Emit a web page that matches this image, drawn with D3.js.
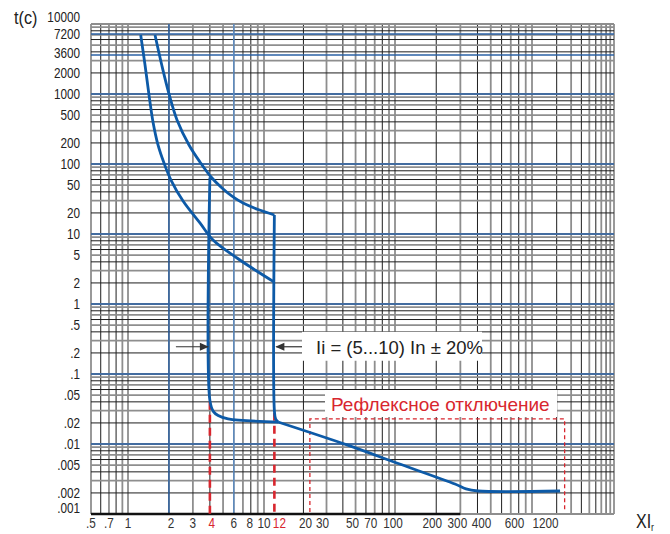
<!DOCTYPE html>
<html><head><meta charset="utf-8">
<script src="https://cdn.jsdelivr.net/npm/d3@7"></script>
<style>
html,body{margin:0;padding:0;background:#fff;}
svg{display:block;}
</style></head>
<body><svg id="c" width="670" height="534"></svg>
<script>
// ---- data ----
const xTickLabels = [".5",".7","1","2","3","4","6","8","10","12","20","30","50","70","100","200","300","400","600","1200"];
const xTickValues = [0.5,0.7,1,2,3,4,6,8,10,12,20,30,50,70,100,200,300,400,600,1200];
const xRedTicks = [4,12];
const yTickLabels = ["10000","7200","3600","2000","1000","500","200","100","50","20","10","5","2","1",".5",".2",".1",".05",".02",".01",".005",".002",".001"];
const yTickValues = [10000,7200,3600,2000,1000,500,200,100,50,20,10,5,2,1,0.5,0.2,0.1,0.05,0.02,0.01,0.005,0.002,0.001];
const yBlueLines = [7200,3600,1000,100,10,1,0.1,0.01];
const xBlueLines = [2,6];
// lower boundary of thermal band (x = multiple of Ir, t = seconds)
const curveLow = [[1.24,6970],[1.334,2596],[1.427,968],[1.527,398],[1.662,187],[1.84,103],[2.07,59],[2.54,29.6],[3.38,14.4],[4.22,8.2],[6.33,4.54],[8.6,3.06],[12,2.05]];
// upper boundary of thermal band
const curveHigh = [[1.58,6970],[1.778,2512],[2.003,1000],[2.293,425],[2.809,187],[3.38,107],[4.08,65.2],[4.91,45.4],[5.92,33.8],[7.01,27.7],[9.04,22.4],[12,18.7]];
// instantaneous trip at 12 and reflex tail
const trip12 = [[12,18.7],[12,0.03],[12.25,0.023],[12.8,0.0206]];
const tail = [[12.8,0.0206],[43,0.0097],[103,0.00535],[274,0.00268],[330,0.00228],[403,0.00213],[2200,0.00213]];
// instantaneous trip at 4
const trip4 = [[4,64],[4,0.042],[4.25,0.029],[4.6,0.0255],[5.44,0.0229],[12.8,0.0206]];
const reflexBox = {x0:22.4, x1:2500, t:0.0228};
const arrowT = 0.245;
const arrowFrom = 2.25;
const arrowTo = 19.5;
const annText = "Ii = (5...10) In ± 20%";
const reflexText = "Рефлексное отключение";

// ---- scales ----
const svg = d3.select("#c");
const x = d3.scaleLog().domain([0.5,1,10,100,1000,10000]).range([91,128,264,395,532,614]);
const y = d3.scaleLog().domain([0.001,10000]).range([514,24]);

const blue = "#0d5aa7";
const red = "#d8262e";
const FONT = "Liberation Sans, Arial, sans-serif";

// ---- grid ----
const grid = svg.append("g");
function minors(lo, hi){
  const out=[];
  for(let e=-4;e<=5;e++){
    for(let d=1;d<=9;d++){
      const v=d*Math.pow(10,e);
      if(v>=lo*0.9999 && v<=hi*1.0001) out.push({v,d});
    }
  }
  return out;
}
const xs = minors(0.5,10000);
const ys = minors(0.001,10000);
grid.selectAll("line.gx").data(xs).join("line")
  .attr("x1",d=>x(d.v)).attr("x2",d=>x(d.v)).attr("y1",y(10000)).attr("y2",y(0.001))
  .attr("stroke",d=>d.d%2? "#8e8e8e":"#1e1e1e")
  .attr("stroke-width",d=>d.d%2?1.8:1);
grid.selectAll("line.gy").data(ys).join("line")
  .attr("y1",d=>y(d.v)).attr("y2",d=>y(d.v)).attr("x1",x(0.5)).attr("x2",x(10000))
  .attr("stroke",d=>d.d%2? "#8e8e8e":"#1e1e1e")
  .attr("stroke-width",d=>d.d%2?1.8:1);
grid.selectAll("line.by").data(yBlueLines).join("line")
  .attr("y1",d=>y(d)).attr("y2",d=>y(d)).attr("x1",x(0.5)).attr("x2",x(10000))
  .attr("stroke","#2b62a6").attr("stroke-width",1.4);
grid.selectAll("line.bx").data(xBlueLines).join("line")
  .attr("x1",d=>x(d)).attr("x2",d=>x(d)).attr("y1",y(10000)).attr("y2",y(0.001))
  .attr("stroke",(d,i)=>i? "#5d8fc9":"#2b62a6").attr("stroke-width",1.4);
// bottom axis thick line
svg.append("line").attr("x1",x(0.5)).attr("x2",x(300)).attr("y1",y(0.001)).attr("y2",y(0.001))
  .attr("stroke","#111").attr("stroke-width",2.5);

// ---- labels (condensed look) ----
const yNudge = {10000:-7, 3600:-2, 0.001:-6};
svg.append("g").selectAll("text").data(yTickValues).join("text")
  .attr("transform",d=>`translate(80,${y(d)+5+(yNudge[d]||0)}) scale(0.84,1)`)
  .attr("text-anchor","end").attr("font-family",FONT)
  .attr("font-size",14).attr("fill","#222")
  .text((d,i)=>yTickLabels[i]);
const xNudge = {2:2, 4:2, 8:-1, 12:5, 20:2, 30:-4, 50:-3, 70:-4, 100:-2, 200:-4, 300:-3, 400:4, 600:13, 1200:7};
svg.append("g").selectAll("text").data(xTickValues).join("text")
  .attr("transform",d=>`translate(${x(d)+(xNudge[d]||0)},528) scale(0.84,1)`)
  .attr("text-anchor","middle").attr("font-family",FONT)
  .attr("font-size",14).attr("fill",d=>xRedTicks.includes(d)?red:"#333")
  .text((d,i)=>xTickLabels[i]);
svg.append("text").attr("transform","translate(14,24) scale(0.9,1)").attr("font-family",FONT)
  .attr("font-size",18).attr("fill","#222").text("t(c)");
const xl = svg.append("text").attr("transform","translate(636,528) scale(0.82,1)").attr("font-family",FONT)
  .attr("font-size",19.5).attr("fill","#222");
xl.append("tspan").text("XI");
xl.append("tspan").attr("font-size",11).attr("dy",3).text("r");

// ---- red dashed markers ----
svg.append("g").selectAll("line").data(xRedTicks).join("line")
  .attr("x1",d=>x(d)).attr("x2",d=>x(d))
  .attr("y1",d=>d===4? y(0.04):y(0.028)).attr("y2",y(0.001))
  .attr("stroke",red).attr("stroke-width",2.6).attr("stroke-dasharray","8,5");
svg.append("path")
  .attr("d",`M${x(reflexBox.x0)},${y(0.001)-2}V${y(reflexBox.t)}H${x(reflexBox.x1)}V${y(0.001)-2}`)
  .attr("fill","none").attr("stroke",red).attr("stroke-width",1.3).attr("stroke-dasharray","4,3");

// ---- curves ----
const line = d3.line().x(d=>x(d[0])).y(d=>y(d[1])).curve(d3.curveCatmullRom.alpha(0.5));
const cg = svg.append("g").attr("fill","none").attr("stroke",blue).attr("stroke-width",2.8).attr("stroke-linejoin","round");
cg.append("path").attr("d",line(curveLow));
cg.append("path").attr("d",line(curveHigh));
cg.append("path").attr("d",line(trip12));
cg.append("path").attr("d",line(trip4));
cg.append("path").attr("d",line(tail));

// ---- annotations ----
const ay = y(arrowT);
const ann = svg.append("g");
ann.append("rect").attr("x",x(arrowTo)).attr("y",ay-15).attr("width",180).attr("height",29).attr("fill","#fff");
ann.append("line").attr("x1",x(arrowFrom)).attr("x2",x(4)-2).attr("y1",ay).attr("y2",ay).attr("stroke","#333").attr("stroke-width",1.2);
ann.append("line").attr("x1",x(12)+2).attr("x2",x(arrowTo)).attr("y1",ay).attr("y2",ay).attr("stroke","#333").attr("stroke-width",1.2);
ann.append("path").attr("d",`M${x(4)-1},${ay}l-9,-4v8z`).attr("fill","#333");
ann.append("path").attr("d",`M${x(12)+1},${ay}l9,-4v8z`).attr("fill","#333");
ann.append("text").attr("x",316).attr("y",ay+7).attr("font-family",FONT)
  .attr("font-size",18.5).attr("fill","#222").text(annText);
const rg = svg.append("g");
rg.append("rect").attr("x",325).attr("y",390).attr("width",232).attr("height",27).attr("fill","#fff");
rg.append("text").attr("x",331).attr("y",411).attr("font-family",FONT)
  .attr("font-size",19).attr("fill",red).text(reflexText);
</script></body></html>
